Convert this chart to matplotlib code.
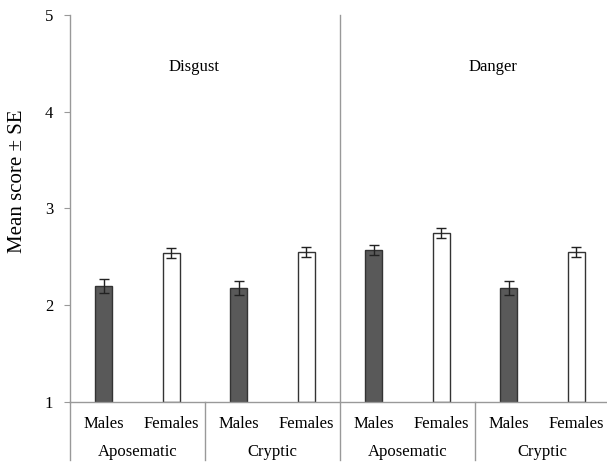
import matplotlib.pyplot as plt
import numpy as np

sexes = ['Males', 'Females', 'Males', 'Females', 'Males', 'Females', 'Males', 'Females']
groups = ['Aposematic', 'Cryptic', 'Aposematic', 'Cryptic']
panels = ['Disgust', 'Danger']
means = [2.20, 2.54, 2.18, 2.55, 2.57, 2.75, 2.18, 2.55]
errs = [0.07, 0.05, 0.07, 0.05, 0.05, 0.05, 0.07, 0.05]

plt.rcParams['font.family'] = ['Liberation Serif', 'DejaVu Serif']

fig = plt.figure(figsize=(6.07, 4.65), dpi=100)
ax = fig.add_axes([70 / 607, 63 / 465, 537 / 607, 387 / 465])

x = np.arange(len(means))
colors = ['#595959' if s == 'Males' else 'white' for s in sexes]
ax.bar(x, [m - 1 for m in means], bottom=1, width=0.25, color=colors,
       edgecolor='#333333', linewidth=1.0, zorder=2)
ax.errorbar(x, means, yerr=errs, fmt='none', ecolor='#222222',
            elinewidth=1.0, capsize=3.5, capthick=1.0, zorder=3)

ax.set_xlim(-0.5, -0.5 + 537 / 67.5)
ax.set_ylim(1, 5)
ax.set_yticks([1, 2, 3, 4, 5])
ax.tick_params(axis='y', labelsize=12, length=4, color='#999999', pad=8)
ax.set_xticks([])

for s in ['top', 'right']:
    ax.spines[s].set_visible(False)
for s in ['left', 'bottom']:
    ax.spines[s].set_color('#999999')
    ax.spines[s].set_linewidth(1.0)

ax.set_ylabel('Mean score ± SE', fontsize=15)
ax.yaxis.set_label_coords(-0.08, 0.57)

tr = ax.get_xaxis_transform()
line_kw = dict(color='#999999', linewidth=1.0, transform=tr, clip_on=False)
ax.plot([-0.5, -0.5], [-0.15, 0], **line_kw)
ax.plot([3.5, 3.5], [-0.15, 1.0], **line_kw)
for gx in [1.5, 5.5]:
    ax.plot([gx, gx], [-0.15, 0], **line_kw)

for xi, s in zip(x, sexes):
    ax.text(xi, -0.058, s, transform=tr, ha='center', va='center', fontsize=12)
for gi, g in enumerate(groups):
    ax.text(2 * gi + 0.5, -0.128, g, transform=tr, ha='center', va='center', fontsize=12)

ax.text(1.34, 4.46, panels[0], ha='center', va='center', fontsize=12)
ax.text(5.77, 4.46, panels[1], ha='center', va='center', fontsize=12)

fig.savefig('out.png', dpi=100)
